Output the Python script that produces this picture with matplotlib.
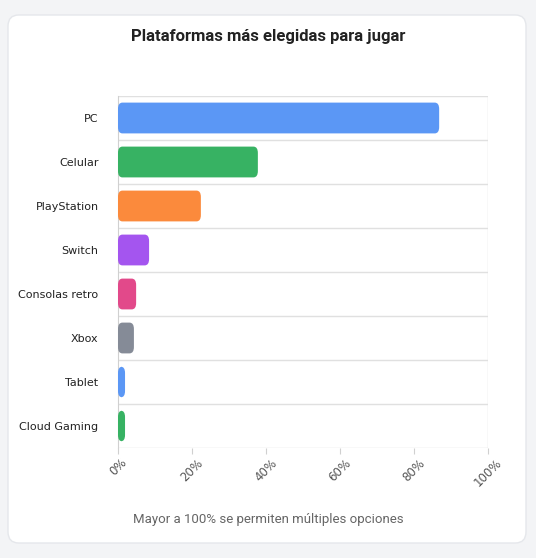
import matplotlib
matplotlib.use("Agg")
import matplotlib.pyplot as plt
from matplotlib.patches import FancyBboxPatch
import numpy as np

categories = ["PC", "Celular", "PlayStation", "Switch", "Consolas retro", "Xbox", "Tablet", "Cloud Gaming"]
values = [86.8, 37.8, 22.4, 8.4, 4.9, 4.3, 1.9, 1.9]
colors = ["#5b97f5", "#37b263", "#fb8a3c", "#a455ef", "#e2498a", "#858b97", "#5b97f5", "#37b263"]
ticks = [0, 20, 40, 60, 80, 100]

W, H = 536, 558
fig = plt.figure(figsize=(W/100, H/100), dpi=100)
fig.patch.set_facecolor("#f3f4f6")
card = FancyBboxPatch((8/W, 15/H), 518/W, 528/H, boxstyle="round,pad=0,rounding_size=0.02",
                      transform=fig.transFigure, facecolor="white", edgecolor="#e5e7eb", lw=1, zorder=-10)
fig.patches.append(card)

ax = fig.add_axes([118/W, 1-448/H, 370/W, 352/H], zorder=5)
ax.set_facecolor("none")
y = np.arange(len(categories))
for yi, v, c in zip(y, values, colors):
    ax.add_patch(FancyBboxPatch((0, yi-0.35), v, 0.7, boxstyle="round,pad=0,rounding_size=1.2",
                                mutation_aspect=0.12, facecolor=c, edgecolor="none", zorder=3))
ax.set_xlim(0, 100)
ax.set_ylim(len(categories)-0.5, -0.5)
ax.set_yticks(y)
ax.set_yticklabels(categories, fontsize=8, color="#222")
ax.set_xticks(ticks)
ax.set_xticklabels([f"{t}%" for t in ticks], rotation=45, fontsize=8.5, color="#555")
for b in np.arange(-0.5, len(categories), 1):
    ax.axhline(b, color="#e0e0e0", lw=1, zorder=0)
ax.axvline(100, color="#e0e0e0", lw=1, zorder=0)
for s in ax.spines.values():
    s.set_visible(False)
ax.spines["left"].set_visible(True)
ax.spines["left"].set_color("#d0d0d0")
ax.tick_params(axis="y", length=0, pad=14)
ax.tick_params(axis="x", length=4, color="#d0d0d0", pad=2)

fig.text(0.5, 1-36/H, "Plataformas más elegidas para jugar", ha="center", va="center",
         fontsize=12, fontweight="bold", color="#222", family="Roboto")
fig.text(0.5, 1-520/H, "Mayor a 100% se permiten múltiples opciones", ha="center", va="center",
         fontsize=9.5, color="#666", family="Roboto")
fig.savefig("out.png", dpi=100, facecolor=fig.get_facecolor())
